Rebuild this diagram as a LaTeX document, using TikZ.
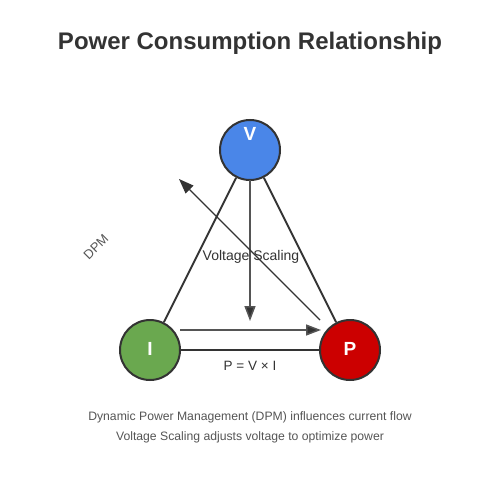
\documentclass[tikz,border=0pt]{standalone}
\usepackage{fontspec}
\setmainfont{Liberation Sans}
\usetikzlibrary{arrows.meta}
\definecolor{dark}{HTML}{333333}
\definecolor{mid}{HTML}{555555}
\definecolor{vblue}{HTML}{4A86E8}
\definecolor{igreen}{HTML}{6AA84F}
\definecolor{pred}{HTML}{CC0000}
\begin{document}
\begin{tikzpicture}[x=1pt,y=-1pt,
  var/.style={circle,draw=dark,line width=2pt,minimum size=60pt,inner sep=0pt,text=white,font=\fontsize{19}{19}\selectfont\bfseries},
  edge/.style={draw=dark,line width=2pt},
  arr/.style={draw=dark,line width=1.5pt,-{Triangle[length=15pt,width=11pt,fill=dark]}},
  lbl/.style={text=dark,font=\fontsize{14}{14}\selectfont},
  note/.style={text=mid,font=\fontsize{12.2}{12.2}\selectfont}]
\useasboundingbox (0,0) rectangle (500,500);
\fill[white] (0,0) rectangle (500,500);
\node[text=dark,font=\fontsize{24}{24}\selectfont\bfseries] (title) at (250,43.5) {Power Consumption Relationship};
\node[var,fill=vblue] (V) at (250,150) {};
\node[text=white,font=\fontsize{19}{19}\selectfont\bfseries] (vl) at (250,134) {V};
\node[var,fill=igreen] (I) at (150,350) {};
\node[text=white,font=\fontsize{19}{19}\selectfont\bfseries] (il) at (150,349) {I};
\node[var,fill=pred] (P) at (350,350) {};
\node[text=white,font=\fontsize{19}{19}\selectfont\bfseries] (pl) at (350,349) {P};
\draw[edge] (V) -- (I);
\draw[edge] (V) -- (P);
\draw[edge] (I) -- (P);
\coordinate (vs) at (250,180);
\coordinate (ve) at (250,321);
\draw[arr,draw=mid] (vs) -- (ve);
\coordinate (hs) at (180,330);
\coordinate (he) at (321,330);
\draw[arr,draw=mid] (hs) -- (he);
\coordinate (ds) at (320,320);
\coordinate (de) at (179,179);
\draw[arr,line width=1.2pt] (ds) -- (de);
\node[lbl] (vsl) at (251,256.5) {Voltage Scaling};
\node[lbl,font=\fontsize{13.5}{13.5}\selectfont] (pvi) at (250,366) {P = V × I};
\node[note,rotate=45,font=\fontsize{13}{13}\selectfont] (dpm) at (96,247) {DPM};
\node[note] (n1) at (250,417.5) {Dynamic Power Management (DPM) influences current flow};
\node[note] (n2) at (250,437.5) {Voltage Scaling adjusts voltage to optimize power};
\end{tikzpicture}
\end{document}
